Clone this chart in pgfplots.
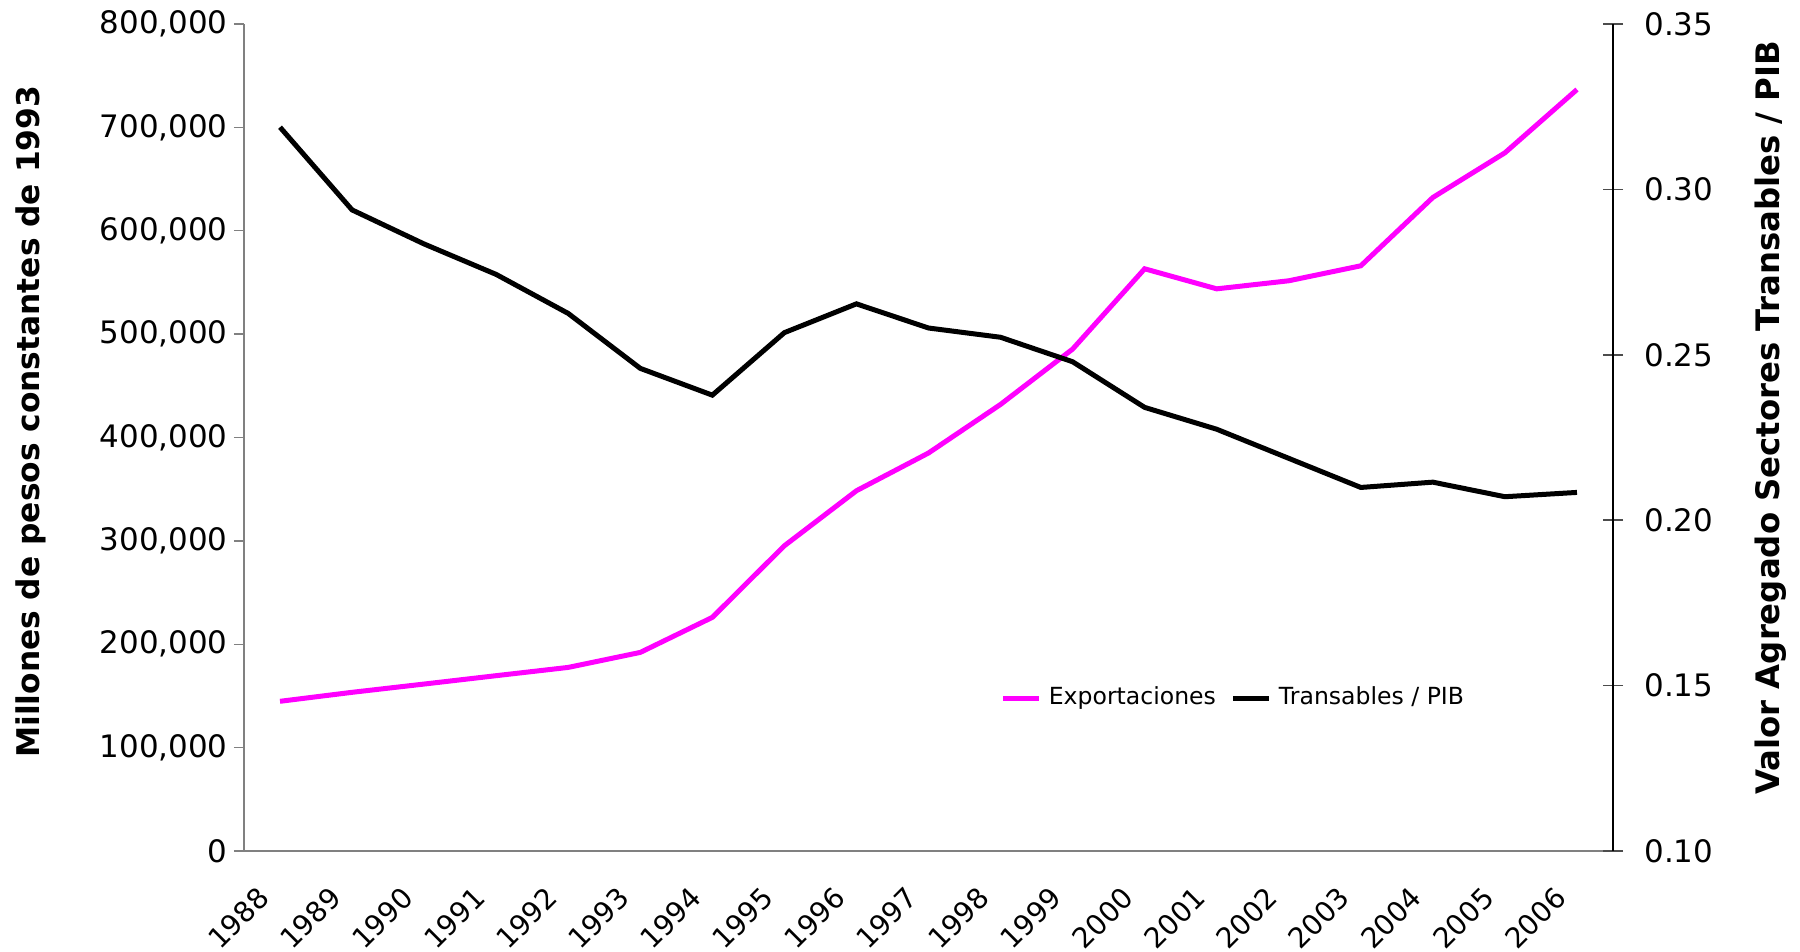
\documentclass[border=0pt]{standalone}
\usepackage{fontspec}
\setmainfont{DejaVu Sans}
\usepackage{pgfplots}
\usepackage{pgfplotstable}
\pgfplotsset{compat=1.18}

\definecolor{expcol}{RGB}{255,0,255}
\definecolor{axgray}{RGB}{128,128,128}

% idx, year, exports (millones de pesos de 1993), transables / PIB
\pgfplotstableread{
idx year exp trans
0 1988 144800 0.3188
1 1989 153500 0.2938
2 1990 161500 0.2835
3 1991 169600 0.2743
4 1992 177600 0.2625
5 1993 192100 0.2459
6 1994 226000 0.2378
7 1995 295300 0.2567
8 1996 348500 0.2654
9 1997 385000 0.2581
10 1998 432000 0.2553
11 1999 485500 0.2479
12 2000 563200 0.2341
13 2001 543800 0.2275
14 2002 551600 0.2187
15 2003 566100 0.2099
16 2004 632200 0.2115
17 2005 675400 0.2071
18 2006 736600 0.2084
}\datos

\begin{document}
\begin{tikzpicture}
\useasboundingbox (-2.44cm,-1.01cm) rectangle (15.56cm,8.51cm);
\begin{axis}[
    scale only axis, width=13.69cm, height=8.27cm,
    xmin=-0.5, xmax=18.5, ymin=0, ymax=800000,
    axis x line*=bottom, axis y line*=left,
    axis line style={axgray, -},
    tick align=outside, major tick length=0.1cm, minor tick length=0.1cm,
    every tick/.style={axgray, line width=0.4pt},
    xtick={0,...,18},
    xticklabels from table={\datos}{year},
    x tick style={draw=none},
    minor xtick={-0.5,0.5,...,18.5},
    xticklabel style={xshift=-0.24cm, yshift=-0.07cm, rotate=45, anchor=north east,
        font=\fontsize{8}{10}\selectfont},
    ytick={0,100000,200000,300000,400000,500000,600000,700000,800000},
    scaled y ticks=false,
    yticklabel style={/pgf/number format/.cd, fixed, 1000 sep={,},
        /tikz/.cd, xshift=0.06cm, font=\fontsize{8.8}{10}\selectfont},
    /pgf/number format/assume math mode=true,
    ylabel={Millones de pesos constantes de 1993},
    ylabel style={at={(axis description cs:-0.1556,0.519)}, anchor=center,
        font=\fontsize{8.9}{10}\selectfont\bfseries},
]
\addplot[expcol, line width=0.05cm] table[x=idx, y=exp] {\datos};
\end{axis}

\begin{axis}[
    scale only axis, width=13.69cm, height=8.27cm,
    xmin=-0.5, xmax=18.5, ymin=0.10, ymax=0.35,
    axis x line=none, axis y line*=right,
    axis line style={black, -},
    tick align=center, major tick length=0.2cm,
    every tick/.style={black!70, line width=0.4pt},
    ytick={0.10,0.15,0.20,0.25,0.30,0.35},
    yticklabel style={/pgf/number format/.cd, fixed, fixed zerofill, precision=2,
        /tikz/.cd, xshift=0.09cm, font=\fontsize{8.8}{10}\selectfont},
    /pgf/number format/assume math mode=true,
    ylabel={Valor Agregado Sectores Transables / PIB},
    ylabel style={at={(axis description cs:1.1154,0.524)}, anchor=center,
        font=\fontsize{9.2}{10}\selectfont\bfseries},
    legend style={at={(axis description cs:0.7246,0.185)}, anchor=center,
        draw=none, fill=none, font=\fontsize{6.7}{8}\selectfont,
        legend columns=2, inner sep=0pt,
        /tikz/every even column/.append style={column sep=0.08cm}},
    legend image code/.code={\draw[#1] (0cm,0cm) -- (0.36cm,0cm);},
]
\addlegendimage{expcol, line width=0.05cm}
\addlegendentry{Exportaciones}
\addplot[black, line width=0.05cm] table[x=idx, y=trans] {\datos};
\addlegendentry{Transables / PIB}
\end{axis}
\end{tikzpicture}
\end{document}
